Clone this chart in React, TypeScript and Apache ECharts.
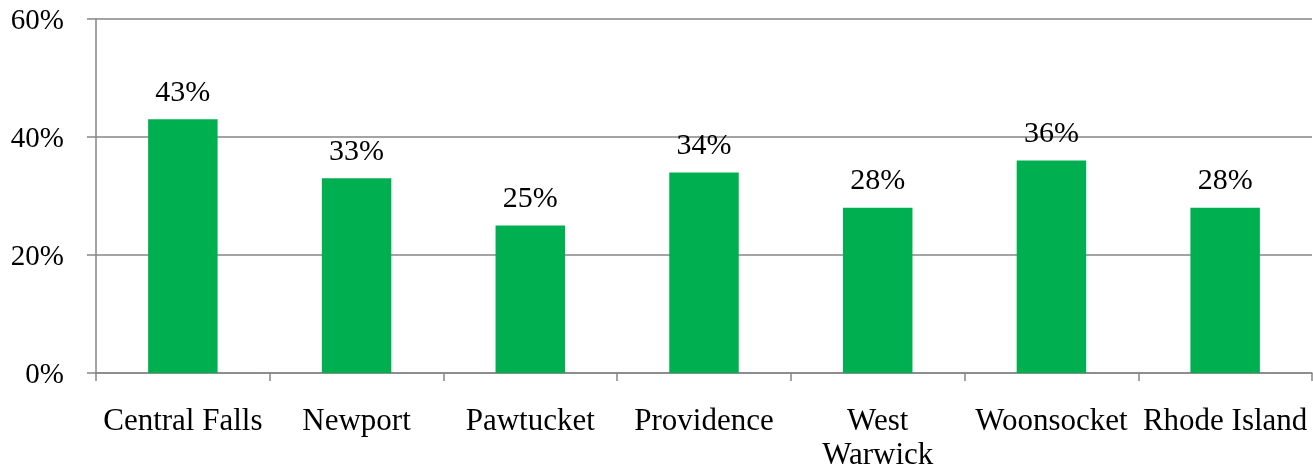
import React, { useEffect, useRef } from "react";
import * as echarts from "echarts";

const categories = ["Central Falls", "Newport", "Pawtucket", "Providence", "West\nWarwick", "Woonsocket", "Rhode Island"];
const values = [43, 33, 25, 34, 28, 36, 28];
const yTicks = { min: 0, max: 60, interval: 20 };

const FONT = "'Liberation Serif', 'Times New Roman', serif";
const GRAY = "#868686";

export default function App() {
  const ref = useRef<HTMLDivElement>(null);
  useEffect(() => {
    const chart = echarts.init(ref.current!, null, { renderer: "svg" });
    chart.setOption({
      animation: false,
      grid: { left: 96, right: 1, top: 19, bottom: 97, containLabel: false, outerBoundsMode: "none" },
      xAxis: {
        type: "category",
        data: categories,
        axisLine: { show: true, lineStyle: { color: GRAY, width: 1.5 } },
        axisTick: { show: true, length: 8, lineStyle: { color: GRAY, width: 1.5 } },
        axisLabel: { color: "#000", fontFamily: FONT, fontSize: 31, margin: 29, lineHeight: 34, interval: 0 },
      },
      yAxis: {
        type: "value",
        min: yTicks.min,
        max: yTicks.max,
        interval: yTicks.interval,
        axisLine: { show: true, lineStyle: { color: GRAY, width: 1.5 } },
        axisTick: { show: true, length: 9, lineStyle: { color: GRAY, width: 1.5 } },
        axisLabel: { color: "#000", fontFamily: FONT, fontSize: 29, margin: 32, formatter: "{value}%" },
        splitLine: { show: true, lineStyle: { color: GRAY, width: 1.5 } },
      },
      series: [
        {
          type: "bar",
          data: values,
          barWidth: "40%",
          itemStyle: { color: "#00B050" },
          label: {
            show: true,
            position: "top",
            distance: 14,
            formatter: "{c}%",
            color: "#000",
            fontFamily: FONT,
            fontSize: 30,
          },
        },
      ],
    });
    return () => chart.dispose();
  }, []);
  return <div ref={ref} style={{ position: "fixed", left: 0, top: 0, width: 1313, height: 470 }} />;
}
